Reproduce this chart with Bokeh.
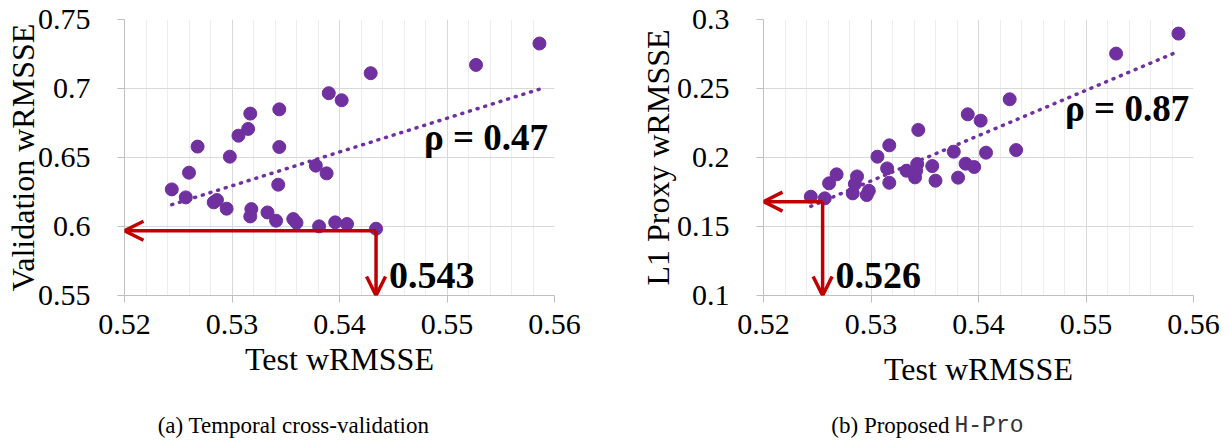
from bokeh.plotting import figure
from bokeh.layouts import row, column
from bokeh.models import (Range1d, FixedTicker, Label, Arrow, OpenHead,
                          CustomJSTickFormatter)
from bokeh.core.properties import value
from bokeh.embed import file_html
from bokeh.resources import INLINE
import numpy as np

# ---------------- data ----------------
test_a = [0.5244, 0.5257, 0.5260, 0.5268, 0.5283, 0.5286, 0.5295, 0.5298, 0.5306, 0.5315,
          0.5317, 0.5318, 0.5317, 0.5333, 0.5341, 0.5343, 0.5344, 0.5344, 0.5357, 0.5360,
          0.5378, 0.5381, 0.5388, 0.5390, 0.5396, 0.5402, 0.5407, 0.5429, 0.5434, 0.5527,
          0.5586]
val_a = [0.6269, 0.6211, 0.6390, 0.6579, 0.6175, 0.6192, 0.6129, 0.6506, 0.6658, 0.6707,
         0.6818, 0.6126, 0.6073, 0.6102, 0.6042, 0.6303, 0.6576, 0.6849, 0.6054, 0.6027,
         0.6441, 0.6001, 0.6385, 0.6966, 0.6030, 0.6915, 0.6018, 0.7111, 0.5984, 0.7171,
         0.7326]

test_b = [0.5244, 0.5257, 0.5261, 0.5268, 0.5283, 0.5285, 0.5287, 0.5296, 0.5298, 0.5306,
          0.5315, 0.5317, 0.5317, 0.5333, 0.5341, 0.5342, 0.5343, 0.5344, 0.5357, 0.5360,
          0.5377, 0.5381, 0.5388, 0.5390, 0.5396, 0.5402, 0.5407, 0.5429, 0.5435, 0.5528,
          0.5586]
proxy_b = [0.1716, 0.1704, 0.1813, 0.1878, 0.1740, 0.1808, 0.1863, 0.1728, 0.1759, 0.2006,
           0.1921, 0.1817, 0.2088, 0.1904, 0.1856, 0.1904, 0.1953, 0.2200, 0.1938, 0.1832,
           0.2042, 0.1854, 0.1955, 0.2313, 0.1931, 0.2267, 0.2035, 0.2422, 0.2054, 0.2753,
           0.2898]

trend_x_a = [0.5244, 0.5586]
trend_y_a = [0.6158, 0.6995]
trend_x_b = [0.5244, 0.5582]
trend_y_b = [0.1646, 0.2756]

sel_a = (0.5434, 0.5969)   # selected model (min validation)
sel_b = (0.5255, 0.1680)   # selected model (min proxy)

x_ticks = [0.52, 0.53, 0.54, 0.55, 0.56]
x_tick_labels = ["0.52", "0.53", "0.54", "0.55", "0.56"]
y_ticks_a = [0.55, 0.6, 0.65, 0.7, 0.75]
y_tick_labels_a = ["0.55", "0.6", "0.65", "0.7", "0.75"]
y_ticks_b = [0.1, 0.15, 0.2, 0.25, 0.3]
y_tick_labels_b = ["0.1", "0.15", "0.2", "0.25", "0.3"]

rho_a = "\u03c1 = 0.47"
rho_b = "\u03c1 = 0.87"
sel_label_a = "0.543"
sel_label_b = "0.526"
caption_a = "(a) Temporal cross-validation"
caption_b1 = "(b) Proposed"
caption_b2 = "H-Pro"

PURPLE = "#7030A0"
RED = "#C00000"
SERIF = "Liberation Serif"
MONO = "Liberation Mono"

FRAME_W, FRAME_H = 430, 276
TOP, PLOT_H = 19, 398


def make_panel(border_left, border_right, xs, ys, yrange, yticks, ylabels,
               ylabel, tx, ty, sel, x_title_standoff, y_title_standoff):
    p = figure(width=border_left + FRAME_W + border_right, height=PLOT_H,
               output_backend="svg", toolbar_location=None,
               x_range=Range1d(0.52, 0.56), y_range=Range1d(*yrange),
               min_border_left=border_left, min_border_right=border_right,
               min_border_top=TOP, min_border_bottom=PLOT_H - TOP - FRAME_H)
    p.outline_line_color = None
    p.background_fill_color = "white"
    p.border_fill_color = "white"

    minor = list(np.round(np.arange(0.52, 0.5601, 0.002), 4))
    p.xaxis.ticker = FixedTicker(ticks=x_ticks, minor_ticks=minor)
    p.yaxis.ticker = FixedTicker(ticks=yticks)
    p.xaxis.major_label_overrides = dict(zip(x_ticks, x_tick_labels))
    p.yaxis.major_label_overrides = dict(zip(yticks, ylabels))
    fmt = CustomJSTickFormatter(code="return tick.toString();")
    p.xaxis.formatter = fmt
    p.yaxis.formatter = fmt

    p.xgrid.grid_line_color = "#D9D9D9"
    p.xgrid.grid_line_width = 1
    p.xgrid.minor_grid_line_color = "#EDEDED"
    p.ygrid.grid_line_color = "#D9D9D9"

    for ax in (p.xaxis, p.yaxis):
        ax.axis_line_color = "#BFBFBF"
        ax.major_tick_line_color = "#BFBFBF"
        ax.major_tick_in = 0
        ax.major_tick_out = 7
        ax.minor_tick_in = 0
        ax.minor_tick_out = 0
        ax.major_label_text_font = SERIF
        ax.major_label_text_font_size = "30px"
        ax.major_label_text_color = "black"
        ax.axis_label_text_font = SERIF
        ax.axis_label_text_font_size = "32px"
        ax.axis_label_text_font_style = "normal"
        ax.axis_label_text_color = "black"
    p.xaxis.major_label_standoff = 12
    p.yaxis.major_label_standoff = 27
    p.xaxis.axis_label = "Test wRMSSE"
    p.yaxis.axis_label = ylabel
    p.xaxis.axis_label_standoff = x_title_standoff
    p.yaxis.axis_label_standoff = y_title_standoff

    p.line(tx, ty, line_color=PURPLE, line_width=3.5, line_dash="1 7", line_cap="round")
    p.scatter(xs, ys, size=13, fill_color=PURPLE, line_color=PURPLE)

    head = dict(size=19, line_color=RED, line_width=3.5)
    p.add_layout(Arrow(end=OpenHead(**head), x_start=sel[0], y_start=sel[1],
                       x_end=0.52, y_end=sel[1], line_color=RED, line_width=3.5))
    p.add_layout(Arrow(end=OpenHead(**head), x_start=sel[0], y_start=sel[1],
                       x_end=sel[0], y_end=yrange[0], line_color=RED, line_width=3.5))
    return p


p1 = make_panel(124, 82, test_a, val_a, (0.55, 0.75), y_ticks_a, y_tick_labels_a,
                "Validation wRMSSE", trend_x_a, trend_y_a, sel_a, 4, -6)
p2 = make_panel(127, 34, test_b, proxy_b, (0.1, 0.3), y_ticks_b, y_tick_labels_b,
                "L1 Proxy wRMSSE", trend_x_b, trend_y_b, sel_b, 14, -2)

# annotations inside the frames
p1.add_layout(Label(x=0.5594, y=0.650, text=rho_a, text_align="right",
                    text_font=SERIF, text_font_size="37px", text_font_style="bold",
                    text_color="black"))
p1.add_layout(Label(x=0.5446, y=0.5551, text=sel_label_a, text_align="left",
                    text_font=SERIF, text_font_size="38px", text_font_style="bold",
                    text_color="black"))
p2.add_layout(Label(x=0.5596, y=0.221, text=rho_b, text_align="right",
                    text_font=SERIF, text_font_size="37px", text_font_style="bold",
                    text_color="black"))
p2.add_layout(Label(x=0.5267, y=0.1051, text=sel_label_b, text_align="left",
                    text_font=SERIF, text_font_size="38px", text_font_style="bold",
                    text_color="black"))

# caption strip (sub-figure captions)
total_w = p1.width + p2.width
cap = figure(width=total_w, height=40, output_backend="svg", toolbar_location=None,
             x_range=Range1d(0, total_w), y_range=Range1d(0, 40),
             x_axis_location=None, y_axis_location=None, min_border=0)
cap.outline_line_color = None
cap.xgrid.visible = False
cap.ygrid.visible = False
cap.text(x=[293], y=[13], text=[caption_a], text_align="center",
         text_baseline="alphabetic", text_font=value(SERIF), text_font_size="23px",
         text_color="black")
cap.text(x=[949], y=[13], text=[caption_b1], text_align="right",
         text_baseline="alphabetic", text_font=value(SERIF), text_font_size="23px",
         text_color="black")
cap.text(x=[954], y=[13], text=[caption_b2], text_align="left",
         text_baseline="alphabetic", text_font=value(MONO), text_font_size="23px",
         text_color="#333333")

layout = column(row(p1, p2), cap)
open("out.html", "w").write(file_html(layout, INLINE))
